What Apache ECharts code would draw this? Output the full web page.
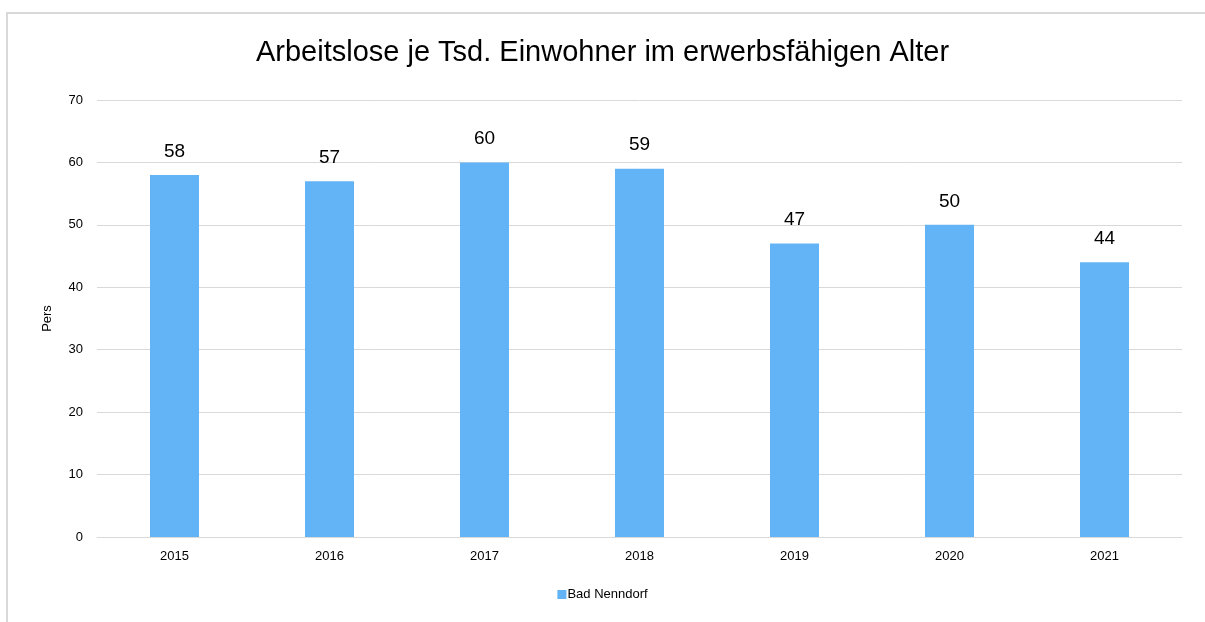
<!DOCTYPE html>
<html>
<head>
<meta charset="utf-8">
<script src="https://cdn.jsdelivr.net/npm/echarts@6/dist/echarts.min.js"></script>
<style>
  html, body { margin: 0; padding: 0; background: #fff; }
  .frame {
    position: absolute; left: 6px; top: 12px; width: 1300px; height: 700px;
    border: 2px solid #d9d9d9; box-sizing: border-box;
  }
  #main { position: absolute; left: 0; top: 0; width: 1205px; height: 622px; }
</style>
</head>
<body>
<div class="frame"></div>
<div id="main"></div>
<script>
// Werte
const years = ['2015', '2016', '2017', '2018', '2019', '2020', '2021']
const values = [58, 57, 60, 59, 47, 50, 44]
const seriesName = 'Bad Nenndorf'

const myChart = echarts.init(document.getElementById('main'))
myChart.setOption({
  animation: false,
  textStyle: { fontFamily: 'Liberation Sans, Arial, sans-serif' },
  title: {
    text: 'Arbeitslose je Tsd. Einwohner im erwerbsfähigen Alter',
    left: 'center',
    top: 33,
    textStyle: { fontSize: 29, fontWeight: 'normal', color: '#000' }
  },
  legend: {
    bottom: 16,
    left: 'center',
    itemWidth: 9,
    itemHeight: 9,
    itemGap: 10,
    textStyle: { fontSize: 13, color: '#000', padding: [0, 0, 0, -4] },
    data: [{ name: seriesName, icon: 'rect' }]
  },
  grid: { left: 97, right: 23, top: 100, bottom: 85 },
  xAxis: {
    type: 'category',
    data: years,
    axisLine: { lineStyle: { color: '#d9d9d9', width: 1 } },
    axisTick: { show: false },
    axisLabel: { color: '#000', fontSize: 13, margin: 13 }
  },
  yAxis: {
    type: 'value',
    min: 0,
    max: 70,
    interval: 10,
    name: 'Pers',
    nameLocation: 'middle',
    nameGap: 43,
    nameTextStyle: { color: '#000', fontSize: 13 },
    axisLabel: { color: '#000', fontSize: 13, margin: 14 },
    splitLine: { lineStyle: { color: '#d9d9d9', width: 1 } }
  },
  series: [
    {
      name: seriesName,
      type: 'bar',
      data: values,
      barWidth: 49,
      itemStyle: { color: '#63b4f6' },
      label: {
        show: true,
        position: 'top',
        distance: 14,
        color: '#000',
        fontSize: 19
      }
    }
  ]
})
</script>
</body>
</html>
